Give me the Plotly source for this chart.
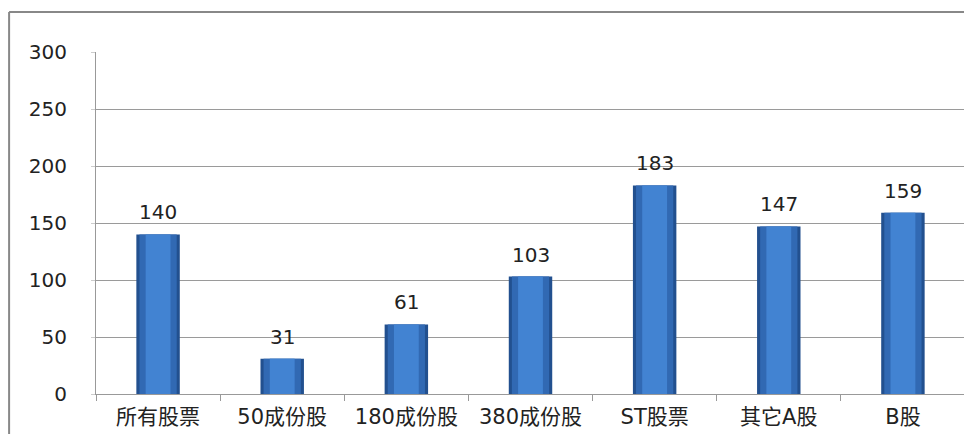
import plotly.graph_objects as go

categories = ["所有股票", "50成份股", "180成份股", "380成份股", "ST股票", "其它A股", "B股"]
values = [140, 31, 61, 103, 183, 147, 159]
y_ticks = [0, 50, 100, 150, 200, 250, 300]

font_family = "DejaVu Sans, Noto Sans CJK SC"

fig = go.Figure()
# three overlaid bars of shrinking width give the rounded, shaded look
for w, col in [(0.35, "#22508f"), (0.30, "#3169b3"), (0.20, "#4283d2")]:
    fig.add_trace(go.Bar(
        x=categories,
        y=values,
        width=w,
        marker=dict(color=col, line=dict(width=0)),
        showlegend=False,
    ))

# data labels above the bars
for c, v in zip(categories, values):
    fig.add_annotation(x=c, y=v, text=str(v), showarrow=False, yshift=22,
                       font=dict(size=20, color="#222222", family=font_family))

# outer chart frame
fig.add_shape(type="line", xref="paper", yref="paper", x0=-0.1, x1=1.02, y0=1.117, y1=1.117,
              line=dict(color="#888888", width=2))
fig.add_shape(type="line", xref="paper", yref="paper", x0=-0.1, x1=-0.1, y0=-0.2, y1=1.117,
              line=dict(color="#888888", width=2))

fig.update_layout(
    width=964, height=426,
    margin=dict(l=88, r=7, t=44, b=40, autoexpand=False),
    paper_bgcolor="white", plot_bgcolor="white",
    font=dict(family=font_family, size=18, color="#222222"),
    barmode="overlay",
)
fig.update_xaxes(
    showline=True, linecolor="#999999", linewidth=1,
    ticks="outside", tickson="boundaries", ticklen=6, tickcolor="#999999",
    tickfont=dict(size=21, family=font_family),
    ticklabelstandoff=4, automargin=False,
)
fig.update_yaxes(
    range=[0, 300], tickvals=y_ticks,
    showline=True, linecolor="#999999", linewidth=1,
    showgrid=True, gridcolor="#9a9a9a", gridwidth=1,
    ticks="outside", ticklen=4, tickcolor="#cccccc",
    tickfont=dict(size=20, family=font_family),
    zeroline=False, ticklabelstandoff=20, automargin=False,
)

fig.write_html("out.html")
